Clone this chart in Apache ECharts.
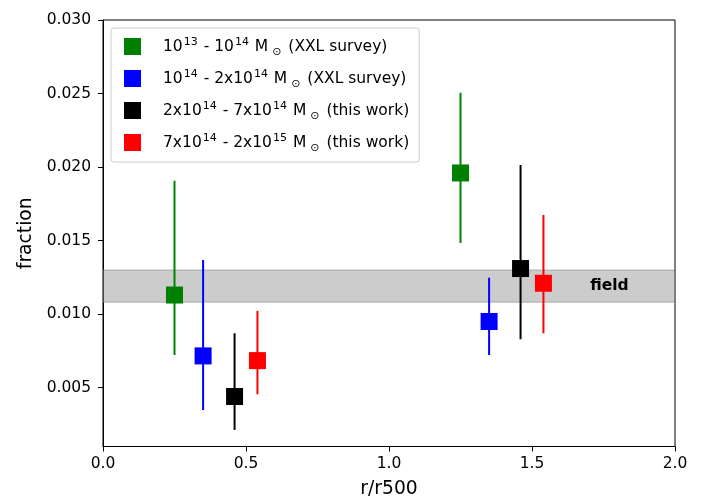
<!DOCTYPE html>
<html>
<head>
<meta charset="utf-8">
<script src="https://cdn.jsdelivr.net/npm/echarts@6/dist/echarts.min.js"></script>
<style>
  html, body { margin: 0; padding: 0; background: #fff; }
  #chart { width: 703px; height: 497px; }
</style>
</head>
<body>
<div id="chart"></div>
<script>
// Mass bins (rich-text legend labels with superscripts and the solar symbol)
const binLabels = [
  '{t|10}{sup|13}{t| - 10}{sup|14}{t| M}{sub|⊙}{t| (XXL survey)}',
  '{t|10}{sup|14}{t| - 2x10}{sup|14}{t| M}{sub|⊙}{t| (XXL survey)}',
  '{t|2x10}{sup|14}{t| - 7x10}{sup|14}{t| M}{sub|⊙}{t| (this work)}',
  '{t|7x10}{sup|14}{t| - 2x10}{sup|15}{t| M}{sub|⊙}{t| (this work)}'
];
const binNames = ['bin1', 'bin2', 'bin3', 'bin4'];
const binColors = ['#008000', '#0000ff', '#000000', '#ff0000'];

// Radial positions (r/r500) of each bin, inner and outer annulus
const rInner = [0.25, 0.35, 0.46, 0.54];
const rOuter = [1.25, 1.35, 1.46, 1.54];

// Fraction and its error range
const fracInner = [0.0113, 0.00716, 0.0044, 0.00684];
const fracOuter = [0.0196, 0.0095, 0.0131, 0.0121];
const lowInner  = [0.00722, 0.00348, 0.00213, 0.00455];
const lowOuter  = [0.01484, 0.00722, 0.00829, 0.0087];
const highInner = [0.01907, 0.01368, 0.0087, 0.01022];
const highOuter = [0.02505, 0.01248, 0.02014, 0.01674];

// Field level band
const fieldLow = 0.0108;
const fieldHigh = 0.0130;
const fieldLabelPos = [1.7, 0.0119];

// Axis ticks
const xTicks = [0, 0.5, 1.0, 1.5, 2.0];
const yTicks = [0.005, 0.010, 0.015, 0.020, 0.025, 0.030];

const FONT = 'DejaVu Sans';
const TICK_SIZE = 15.5;
const LEGEND_SIZE = 15.5;
const NAME_SIZE = 18.7;
const chart = echarts.init(document.getElementById('chart'), null, { renderer: 'canvas' });

const series = [];

// Grey band marking the field value
series.push({
  name: 'field',
  type: 'scatter',
  data: [],
  z: 0,
  silent: true,
  markArea: {
    silent: true,
    itemStyle: {
      color: 'rgba(128,128,128,0.4)',
      borderColor: 'rgba(128,128,128,0.35)',
      borderWidth: 1.5
    },
    data: [[{ yAxis: fieldLow }, { yAxis: fieldHigh }]]
  },
  markPoint: {
    silent: true,
    symbol: 'circle',
    symbolSize: 0,
    label: {
      show: true,
      position: 'right',
      distance: 1,
      formatter: 'field',
      fontFamily: FONT,
      fontWeight: 'bold',
      fontSize: TICK_SIZE,
      color: '#000'
    },
    data: [{ coord: fieldLabelPos }]
  }
});

binNames.forEach((name, i) => {
  const color = binColors[i];
  // vertical error bars
  series.push({
    name: name + '-err',
    type: 'custom',
    z: 2,
    silent: true,
    data: [
      [rInner[i], lowInner[i], highInner[i]],
      [rOuter[i], lowOuter[i], highOuter[i]]
    ],
    encode: { x: 0, y: [1, 2] },
    renderItem: function (params, api) {
      const p1 = api.coord([api.value(0), api.value(1)]);
      const p2 = api.coord([api.value(0), api.value(2)]);
      return {
        type: 'line',
        shape: { x1: p1[0], y1: p1[1], x2: p2[0], y2: p2[1] },
        style: { stroke: color, lineWidth: 2 }
      };
    }
  });
  // square markers
  series.push({
    name: name,
    type: 'scatter',
    z: 3,
    symbol: 'rect',
    symbolSize: 17,
    itemStyle: { color: color, opacity: 1 },
    data: [[rInner[i], fracInner[i]], [rOuter[i], fracOuter[i]]]
  });
});

const richStyles = {
  t:   { fontFamily: FONT, fontSize: LEGEND_SIZE, lineHeight: 23, color: '#000' },
  sup: { fontFamily: FONT, fontSize: 11, lineHeight: 11, padding: [0, 1, 8, 1], color: '#000' },
  sub: { fontFamily: FONT, fontSize: 11, lineHeight: 11, padding: [12, 2, 0, 4], color: '#000' }
};

chart.setOption({
  animation: false,
  backgroundColor: '#fff',
  grid: {
    left: 103, right: 28, top: 20, bottom: 50.5,
    outerBoundsMode: 'none',
    containLabel: false,
    show: true, borderColor: '#000', borderWidth: 1
  },
  legend: {
    orient: 'vertical',
    left: 111,
    top: 28,
    padding: [7, 10, 8, 13],
    itemGap: 9,
    itemWidth: 17,
    itemHeight: 17,
    icon: 'rect',
    backgroundColor: 'rgba(255,255,255,0.8)',
    borderColor: '#cccccc',
    borderWidth: 1,
    borderRadius: 3,
    selectedMode: false,
    data: binNames,
    formatter: function (name) { return binLabels[binNames.indexOf(name)]; },
    textStyle: {
      padding: [0, 0, 0, 17],
      rich: richStyles
    }
  },
  xAxis: {
    type: 'value',
    min: 0,
    max: 2,
    interval: 0.5,
    name: 'r/r500',
    nameLocation: 'middle',
    nameGap: 33,
    nameTextStyle: { fontFamily: FONT, fontSize: NAME_SIZE, color: '#000' },
    axisLine: { show: true, lineStyle: { color: '#000', width: 1 } },
    axisTick: { show: true, length: 5, lineStyle: { color: '#000', width: 1 } },
    axisLabel: {
      fontFamily: FONT, fontSize: TICK_SIZE, color: '#000', margin: 9,
      customValues: xTicks,
      formatter: v => v.toFixed(1)
    },
    splitLine: { show: false }
  },
  yAxis: {
    type: 'value',
    min: 0.001,
    max: 0.030,
    name: 'fraction',
    nameLocation: 'middle',
    nameGap: 65,
    nameTextStyle: { fontFamily: FONT, fontSize: NAME_SIZE, color: '#000' },
    axisLine: { show: true, lineStyle: { color: '#000', width: 1 } },
    axisTick: { show: true, length: 5, customValues: yTicks, lineStyle: { color: '#000', width: 1 } },
    axisLabel: {
      fontFamily: FONT, fontSize: TICK_SIZE, color: '#000', margin: 12,
      customValues: yTicks,
      formatter: v => v.toFixed(3)
    },
    splitLine: { show: false }
  },
  series: series
});
</script>
</body>
</html>
